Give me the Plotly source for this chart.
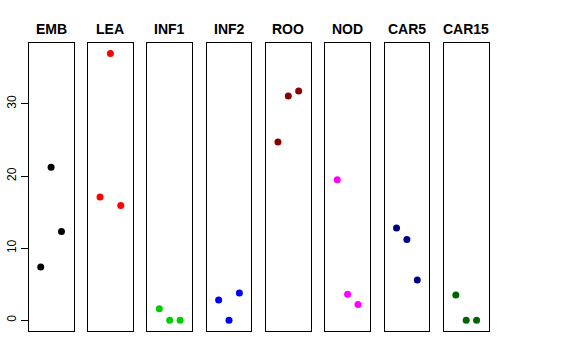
import plotly.graph_objects as go

categories = ["EMB", "LEA", "INF1", "INF2", "ROO", "NOD", "CAR5", "CAR15"]
colors = ["#000000", "#FF0000", "#00CD00", "#0000FF", "#8B0000", "#FF00FF", "#000080", "#006400"]
positions = [1, 2, 3]
emb = [7.4, 21.2, 12.3]
lea = [17.1, 37.0, 15.9]
inf1 = [1.6, 0.0, 0.0]
inf2 = [2.8, 0.0, 3.8]
roo = [24.7, 31.1, 31.8]
nod = [19.5, 3.6, 2.2]
car5 = [12.8, 11.2, 5.6]
car15 = [3.5, 0.0, 0.0]
series = [emb, lea, inf1, inf2, roo, nod, car5, car15]
y_ticks = [0, 10, 20, 30]

W, H = 576, 360
left0 = 28.7
pw = 44.8
pitch = 59.3
y_bot = 331.0
y_top = 42.7

fig = go.Figure()
layout = {}
for i, (cat, col, vals) in enumerate(zip(categories, colors, series)):
    n = "" if i == 0 else str(i + 1)
    x0 = left0 + i * pitch
    x1 = x0 + pw
    fig.add_trace(go.Scatter(
        x=positions, y=vals, mode="markers",
        marker=dict(color=col, size=7),
        xaxis="x" + n, yaxis="y" + n, showlegend=False, hoverinfo="y"))
    layout["xaxis" + n] = dict(
        domain=[x0 / W, x1 / W], range=[-0.16, 4.16], showgrid=False, zeroline=False,
        showticklabels=False, ticks="", showline=True, mirror=True, automargin=False,
        linecolor="#000000", linewidth=1, anchor="y" + n, fixedrange=True)
    layout["yaxis" + n] = dict(
        domain=[(H - y_bot) / H, (H - y_top) / H], range=[-1.48, 38.48],
        showgrid=False, zeroline=False, showline=True, mirror=True, automargin=False,
        linecolor="#000000", linewidth=1, anchor="x" + n, fixedrange=True,
        showticklabels=(i == 0), ticks="outside" if i == 0 else "",
        tickvals=y_ticks if i == 0 else [], ticklen=7, tickcolor="#000000",
        tickangle=-90, tickfont=dict(family="Liberation Sans, Arial", size=12, color="#000000"))
    fig.add_annotation(
        x=(x0 + x1) / 2 / W, y=(H - 29.3) / H, xref="paper", yref="paper",
        text="<b>" + cat + "</b>", showarrow=False, xanchor="center", yanchor="middle",
        font=dict(family="Liberation Sans, Arial", size=14, color="#000000"))

fig.update_layout(
    width=W, height=H, margin=dict(l=0, r=0, t=0, b=0, autoexpand=False),
    paper_bgcolor="white", plot_bgcolor="white", **layout)

fig.write_html("out.html", config={"displayModeBar": False},
               post_script="document.body.style.margin='0';document.body.style.overflow='hidden';")
